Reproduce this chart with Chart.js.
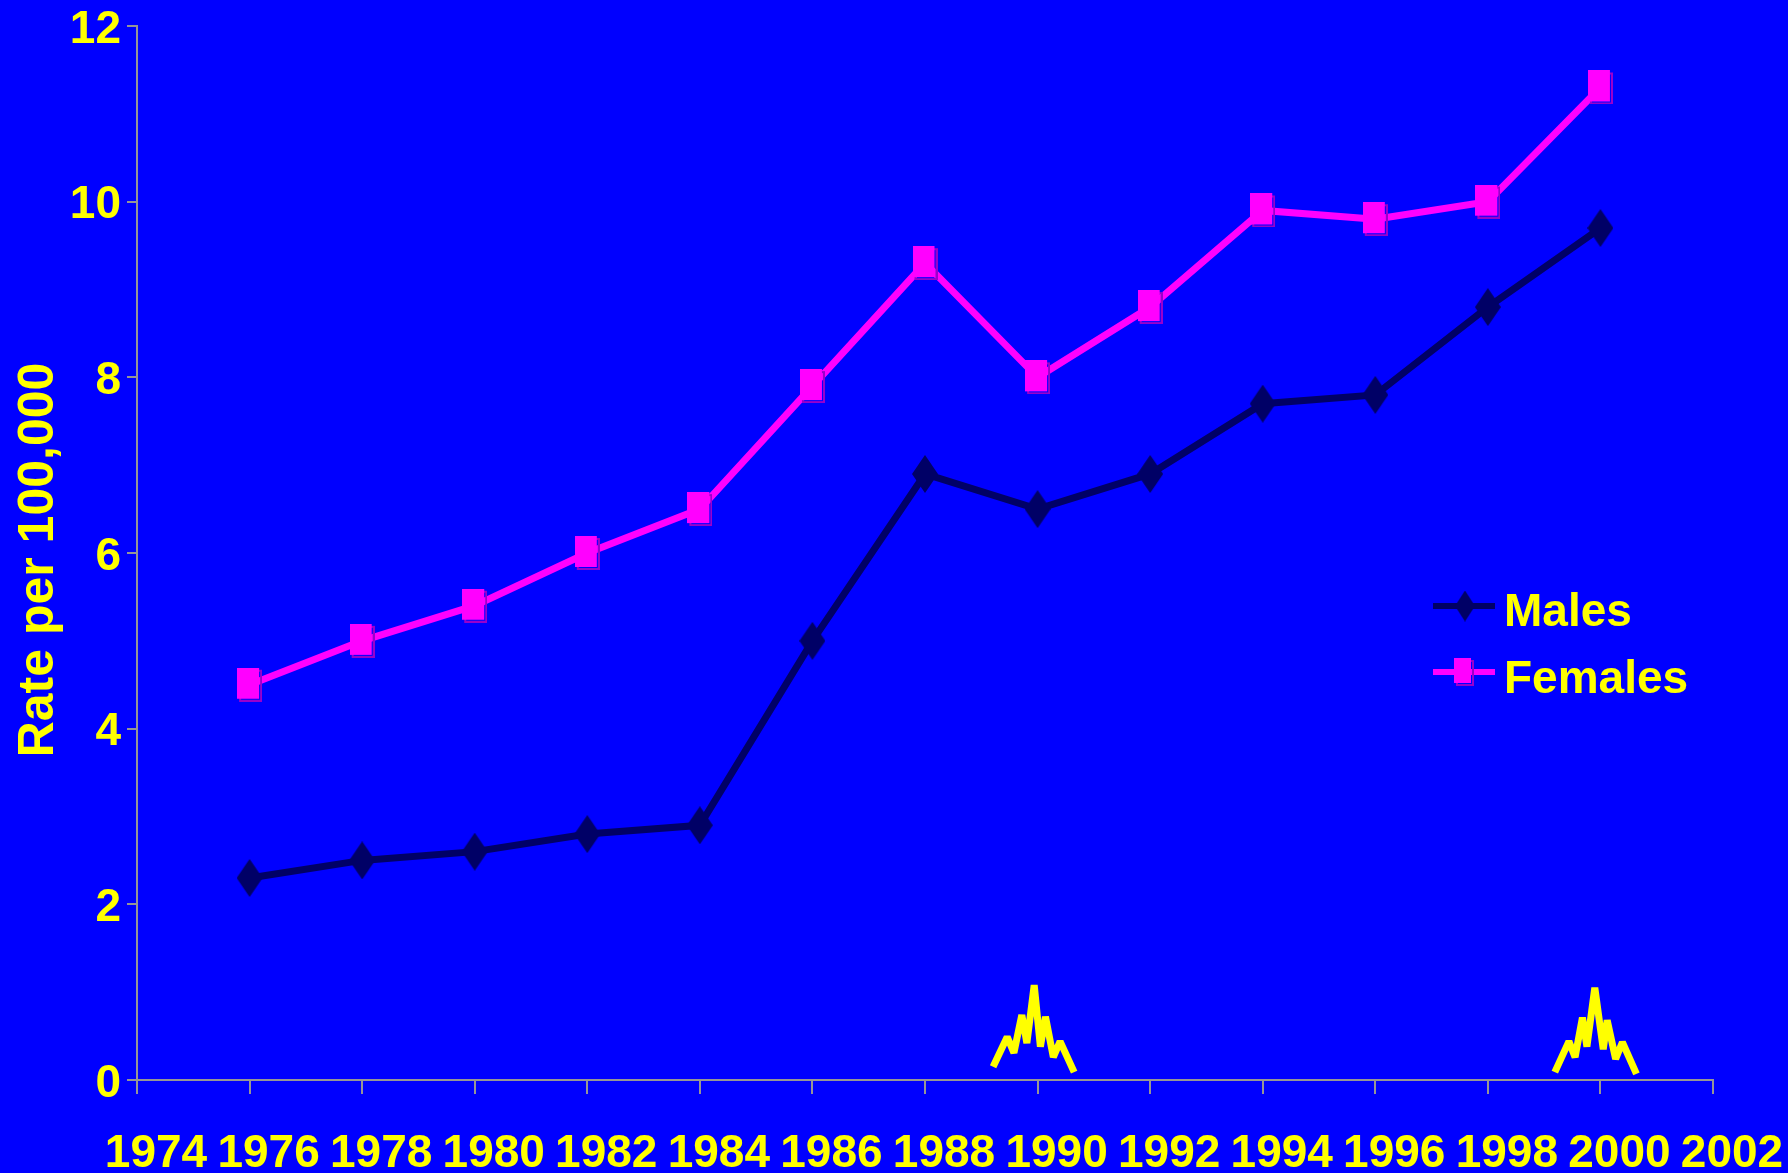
<!DOCTYPE html>
<html>
<head>
<meta charset="utf-8">
<title>Rate per 100,000</title>
<script src="https://cdn.jsdelivr.net/npm/chart.js@4"></script>
<style>
  html, body { margin: 0; padding: 0; background: #0000ff; overflow: hidden; }
  canvas { display: block; }
</style>
</head>
<body>
<canvas id="rateChart" width="1788" height="1173"></canvas>
<script>
  // --- Data ---
  const years = [1976, 1978, 1980, 1982, 1984, 1986, 1988, 1990, 1992, 1994, 1996, 1998, 2000];
  const malesRate = [2.3, 2.5, 2.6, 2.8, 2.9, 5.0, 6.9, 6.5, 6.9, 7.7, 7.8, 8.8, 9.7];
  const femalesRate = [4.5, 5.0, 5.4, 6.0, 6.5, 7.9, 9.3, 8.0, 8.8, 9.9, 9.8, 10.0, 11.3];

  // yellow spikes sitting on the axis around 1990 and 2000
  const spike1990Years = [1989.21, 1989.46, 1989.58, 1989.72, 1989.81, 1989.94, 1990.05, 1990.14, 1990.28, 1990.40, 1990.65];
  const spike1990Values = [0.15, 0.49, 0.31, 0.74, 0.42, 1.08, 0.38, 0.72, 0.26, 0.44, 0.09];
  const spike2000Years = [1999.19, 1999.44, 1999.55, 1999.68, 1999.76, 1999.90, 2000.05, 2000.12, 2000.27, 2000.39, 2000.64];
  const spike2000Values = [0.09, 0.44, 0.26, 0.71, 0.38, 1.05, 0.35, 0.68, 0.24, 0.43, 0.07];

  const NAVY = '#000066';
  const MAGENTA = '#ff00ff';
  const YELLOW = '#ffff00';
  const AXIS_GREY = '#969696';
  const FONT = '"Liberation Sans", Arial, sans-serif';

  const pairs = (xs, ys) => xs.map((x, i) => ({ x: x, y: ys[i] }));

  // --- Marker images ---
  const diamondMarker = (w, h) => {
    const c = document.createElement('canvas');
    c.width = w;
    c.height = h;
    const g = c.getContext('2d');
    g.fillStyle = NAVY;
    g.beginPath();
    g.moveTo(w / 2, 0);
    g.lineTo(w, h / 2);
    g.lineTo(w / 2, h);
    g.lineTo(0, h / 2);
    g.closePath();
    g.fill();
    return c;
  };

  const squareMarker = (w, h) => {
    const c = document.createElement('canvas');
    c.width = w + 3;
    c.height = h + 3;
    const g = c.getContext('2d');
    g.strokeStyle = '#9900cc';
    g.lineWidth = 2;
    g.strokeRect(3, 3, w - 1, h - 1);
    g.fillStyle = MAGENTA;
    g.fillRect(0, 0, w, h);
    return c;
  };

  // --- Legend and the axis title, placed where the original has them ---
  const overlay = {
    id: 'overlay',
    afterDraw(chart) {
      const ctx = chart.ctx;
      ctx.save();

      ctx.fillStyle = YELLOW;
      ctx.font = 'bold 50px ' + FONT;
      ctx.textBaseline = 'alphabetic';
      ctx.textAlign = 'center';
      ctx.save();
      ctx.translate(53, 560);
      ctx.rotate(-Math.PI / 2);
      ctx.fillText('Rate per 100,000', 0, 0);
      ctx.restore();

      const rows = [
        { set: chart.data.datasets[0], lineY: 606, baseline: 626, marker: diamondMarker(20, 31), markerX: 1465 },
        { set: chart.data.datasets[1], lineY: 672, baseline: 693, marker: squareMarker(17, 25), markerX: 1464 }
      ];
      rows.forEach(row => {
        ctx.strokeStyle = row.set.borderColor;
        ctx.lineWidth = 6;
        ctx.beginPath();
        ctx.moveTo(1433, row.lineY);
        ctx.lineTo(1495, row.lineY);
        ctx.stroke();
        ctx.drawImage(row.marker, row.markerX - row.marker.width / 2, row.lineY - row.marker.height / 2);
        ctx.fillStyle = YELLOW;
        ctx.font = 'bold 46px ' + FONT;
        ctx.textAlign = 'left';
        ctx.fillText(row.set.label, 1504, row.baseline);
      });
      ctx.restore();
    }
  };

  const seriesLine = (label, values, colour, marker) => ({
    label: label,
    data: pairs(years, values),
    borderColor: colour,
    backgroundColor: colour,
    borderWidth: 7,
    pointStyle: marker,
    pointRadius: 15,
    tension: 0,
    clip: false
  });

  const spikeLine = (label, xs, ys) => ({
    label: label,
    data: pairs(xs, ys),
    borderColor: YELLOW,
    borderWidth: 7,
    borderJoinStyle: 'bevel',
    pointRadius: 0,
    tension: 0
  });

  new Chart(document.getElementById('rateChart'), {
    type: 'line',
    data: {
      datasets: [
        seriesLine('Males', malesRate, NAVY, diamondMarker(26, 38)),
        seriesLine('Females', femalesRate, MAGENTA, squareMarker(22, 31)),
        spikeLine('1990', spike1990Years, spike1990Values),
        spikeLine('2000', spike2000Years, spike2000Values)
      ]
    },
    options: {
      responsive: false,
      animation: false,
      layout: { padding: { top: 26, right: 75, left: 0, bottom: 0 } },
      plugins: { legend: { display: false }, tooltip: { enabled: false } },
      scales: {
        x: {
          type: 'linear',
          min: 1974,
          max: 2002,
          afterFit: scale => {
            scale.height = 93;
            scale.paddingLeft = 0;
            scale.paddingRight = 0;
          },
          border: { color: AXIS_GREY, width: 2 },
          grid: { drawOnChartArea: false, color: AXIS_GREY, lineWidth: 2, tickLength: 14 },
          ticks: {
            stepSize: 2,
            maxRotation: 0,
            autoSkip: false,
            labelOffset: 19,
            padding: 33,
            color: YELLOW,
            font: { family: FONT, size: 46, weight: 'bold' },
            callback: value => String(value)
          }
        },
        y: {
          min: 0,
          max: 12,
          afterFit: scale => {
            scale.width = 137;
            scale.paddingTop = 0;
            scale.paddingBottom = 0;
          },
          border: { color: AXIS_GREY, width: 2 },
          grid: { drawOnChartArea: false, color: AXIS_GREY, lineWidth: 2, tickLength: 10 },
          ticks: {
            stepSize: 2,
            padding: 6,
            labelOffset: 4,
            color: YELLOW,
            font: { family: FONT, size: 46, weight: 'bold' }
          }
        }
      }
    },
    plugins: [overlay]
  });
</script>
</body>
</html>
